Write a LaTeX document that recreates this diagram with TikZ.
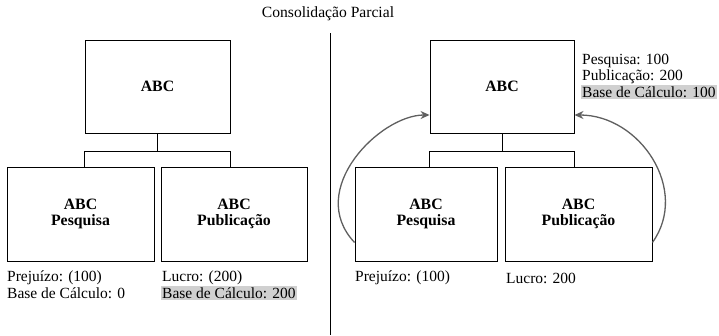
\documentclass[tikz,border=0pt]{standalone}
\usepackage{fontspec}
\setmainfont{Liberation Serif}
\usetikzlibrary{arrows.meta}
\definecolor{hlgray}{RGB}{208,208,208}
\definecolor{arcgray}{RGB}{95,95,95}
\begin{document}
\begin{tikzpicture}[x=1pt,y=-1pt,
  box/.style={draw, line width=0.9pt, inner sep=0pt, align=center,
    font=\bfseries\fontsize{15.8}{16}\selectfont},
  lbl/.style={anchor=west, inner sep=0pt, font=\fontsize{15.5}{15}\selectfont},
  hl/.style={lbl, fill=hlgray, inner xsep=1pt, inner ysep=1.5pt},
  conn/.style={line width=0.8pt},
  flow/.style={draw=arcgray, line width=1.3pt, -{Stealth[length=9pt,width=8pt]}}]
\useasboundingbox (0,0) rectangle (719,335);

\node[font=\fontsize{15.6}{15}\selectfont] (title) at (328,14) {Consolidação Parcial};
\coordinate (divtop) at (330,33);
\coordinate (divbot) at (330,335);
\draw[line width=1pt] (divtop) -- (divbot);

% left side
\node[box, minimum width=145pt, minimum height=93pt] (lt) at (157.5,86.5) {ABC};
\node[box, minimum width=147pt, minimum height=94pt] (l1) at (80.5,214) {ABC\\Pesquisa};
\node[box, minimum width=146pt, minimum height=94pt] (l2) at (234,214) {ABC\\Publicação};
\draw[conn] (lt.south) -- ++(0,18) coordinate (lb);
\draw[conn] (lt.west |- lb) -- (lt.east |- lb);
\draw[conn] (lt.west |- lb) -- (lt.west |- l1.north);
\draw[conn] (lt.east |- lb) -- (lt.east |- l2.north);
\node[lbl] (l1a) at (7,278) {Prejuízo: (100)};
\node[lbl] (l1b) at (7,293) {Base de Cálculo: 0};
\node[lbl] (l2a) at (162,278) {Lucro: (200)};
\node[hl] (l2b) at (161,293) {Base de Cálculo: 200};

% right side
\node[box, minimum width=144pt, minimum height=93pt] (rt) at (502,86.5) {ABC};
\node[box, minimum width=142pt, minimum height=94pt] (r1) at (426,214) {ABC\\Pesquisa};
\node[box, minimum width=147pt, minimum height=94pt] (r2) at (578.5,214) {ABC\\Publicação};
\draw[conn] (rt.south) -- ++(0,18) coordinate (rb);
\draw[conn] (rt.west |- rb) -- (rt.east |- rb);
\draw[conn] (rt.west |- rb) -- (rt.west |- r1.north);
\draw[conn] (rt.east |- rb) -- (rt.east |- r2.north);
\node[lbl] (rta) at (582,61) {Pesquisa: 100};
\node[lbl] (rtb) at (582,77) {Publicação: 200};
\node[hl] (rtc) at (581,92) {Base de Cálculo: 100};
\node[lbl] (r1a) at (355,278) {Prejuízo: (100)};
\node[lbl] (r2a) at (506,278) {Lucro: 200};

\path[flow] ([yshift=19pt]r1.south west) .. controls (305,190) and (380,115) .. ([yshift=-28.5pt]rt.west);
\path[flow] ([yshift=19pt]r2.south east) .. controls (690,190) and (640,115) .. ([yshift=-28.5pt]rt.east);
\end{tikzpicture}
\end{document}
